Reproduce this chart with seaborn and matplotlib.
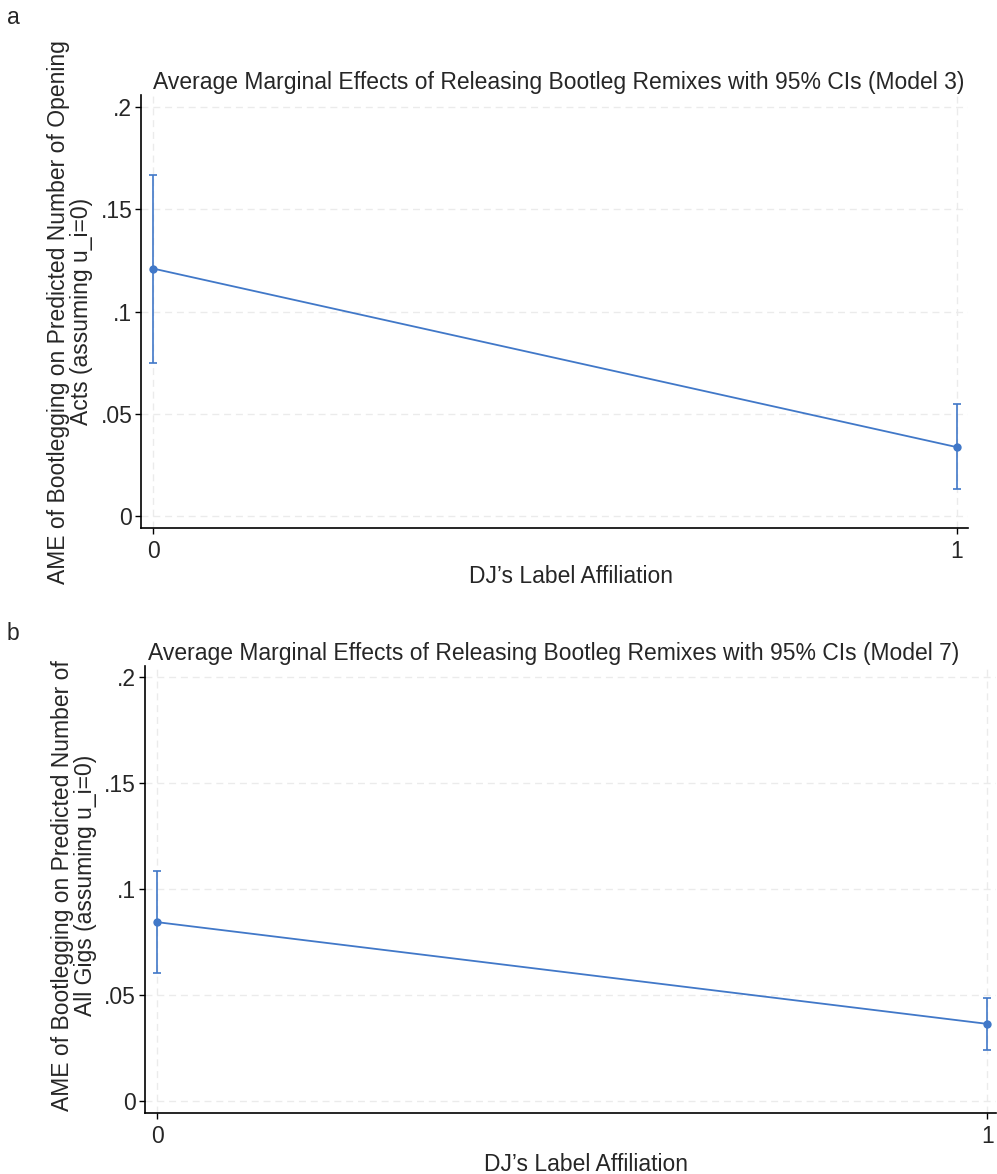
import numpy as np
import pandas as pd
import matplotlib
matplotlib.use("Agg")
import matplotlib.pyplot as plt
import seaborn as sns

# Values
label_affiliation = [0, 1]

ame_model3 = [0.121, 0.0337]
ci_low_model3 = [0.0748, 0.0130]
ci_high_model3 = [0.167, 0.0548]

ame_model7 = [0.0844, 0.0364]
ci_low_model7 = [0.0603, 0.0241]
ci_high_model7 = [0.1086, 0.0485]

y_ticks = [0, 0.05, 0.1, 0.15, 0.2]
y_tick_labels = ["0", ".05", ".1", ".15", ".2"]

titles = [
    "Average Marginal Effects of Releasing Bootleg Remixes with 95% CIs (Model 3)",
    "Average Marginal Effects of Releasing Bootleg Remixes with 95% CIs (Model 7)",
]
y_labels = [
    "AME of Bootlegging on Predicted Number of Opening\nActs (assuming u_i=0)",
    "AME of Bootlegging on Predicted Number of\nAll Gigs (assuming u_i=0)",
]
x_label = "DJ\u2019s Label Affiliation"
panel_letters = ["a", "b"]

sns.set_style("white")
plt.rcParams["font.family"] = ["Liberation Sans", "DejaVu Sans"]

line_color = "#4178c8"
grid_color = "#ebebeb"
fs = 16.5

fig = plt.figure(figsize=(9.97, 11.74), dpi=100)

W, H = 997.0, 1174.0
# axes boxes in pixels: left, right, top, bottom
boxes = [(141.3, 968.0, 95.0, 528.3), (144.7, 996.0, 666.0, 1113.3)]
xlims = [(-0.015, 1.014), (-0.0152, 1.0105)]
ylims = [(-0.006, 0.2059), (-0.0058, 0.2053)]
title_x = [0.505, 0.48]
xlabel_pos = [(0.520, -0.085), (0.518, -0.089)]
ylabel_y = [0.5, 0.51]

panels = [
    (ame_model3, ci_low_model3, ci_high_model3),
    (ame_model7, ci_low_model7, ci_high_model7),
]

for i, (ame, lo, hi) in enumerate(panels):
    l, r, t, b = boxes[i]
    ax = fig.add_axes([l / W, 1 - b / H, (r - l) / W, (b - t) / H])

    df = pd.DataFrame({"x": label_affiliation, "ame": ame, "lo": lo, "hi": hi})

    # dashed reference grid like Stata
    for yv in y_ticks:
        ax.axhline(yv, color=grid_color, lw=1.0, ls=(0, (5, 3.5)), zorder=0)
    for xv in label_affiliation:
        ax.axvline(xv, color=grid_color, lw=1.0, ls=(0, (5, 3.5)), zorder=0)

    ax.errorbar(df["x"], df["ame"], yerr=[df["ame"] - df["lo"], df["hi"] - df["ame"]],
                fmt="none", ecolor=line_color, elinewidth=1.2, capsize=2.6, capthick=1.2, zorder=2)
    sns.lineplot(data=df, x="x", y="ame", ax=ax, color=line_color, lw=1.3,
                 marker="o", markersize=6, markeredgewidth=0, zorder=3)

    ax.set_xlim(*xlims[i])
    ax.set_ylim(*ylims[i])
    ax.set_xticks(label_affiliation)
    ax.set_xticklabels([str(v) for v in label_affiliation], fontsize=fs)
    ax.set_yticks(y_ticks)
    ax.set_yticklabels(y_tick_labels, fontsize=fs)
    ax.tick_params(axis="both", direction="out", length=4.5, width=1, color="black",
                   left=True, bottom=True)
    ax.tick_params(axis="y", pad=2)
    ax.tick_params(axis="x", pad=4)

    for side in ["top", "right"]:
        ax.spines[side].set_visible(False)
    for side in ["left", "bottom"]:
        ax.spines[side].set_color("black")
        ax.spines[side].set_linewidth(1.2)

    ax.set_title(titles[i], fontsize=fs, x=title_x[i], pad=4)
    ax.set_xlabel(x_label, fontsize=fs)
    ax.xaxis.set_label_coords(*xlabel_pos[i])
    ax.set_ylabel(y_labels[i], fontsize=fs, labelpad=5, linespacing=1.0)
    ax.yaxis.label.set_y(ylabel_y[i])

fig.text(13 / W, 1 - 17 / H, panel_letters[0], fontsize=fs, va="center", ha="center")
fig.text(13 / W, 1 - 634 / H, panel_letters[1], fontsize=fs, va="center", ha="center")

fig.savefig("out.png", dpi=100)
